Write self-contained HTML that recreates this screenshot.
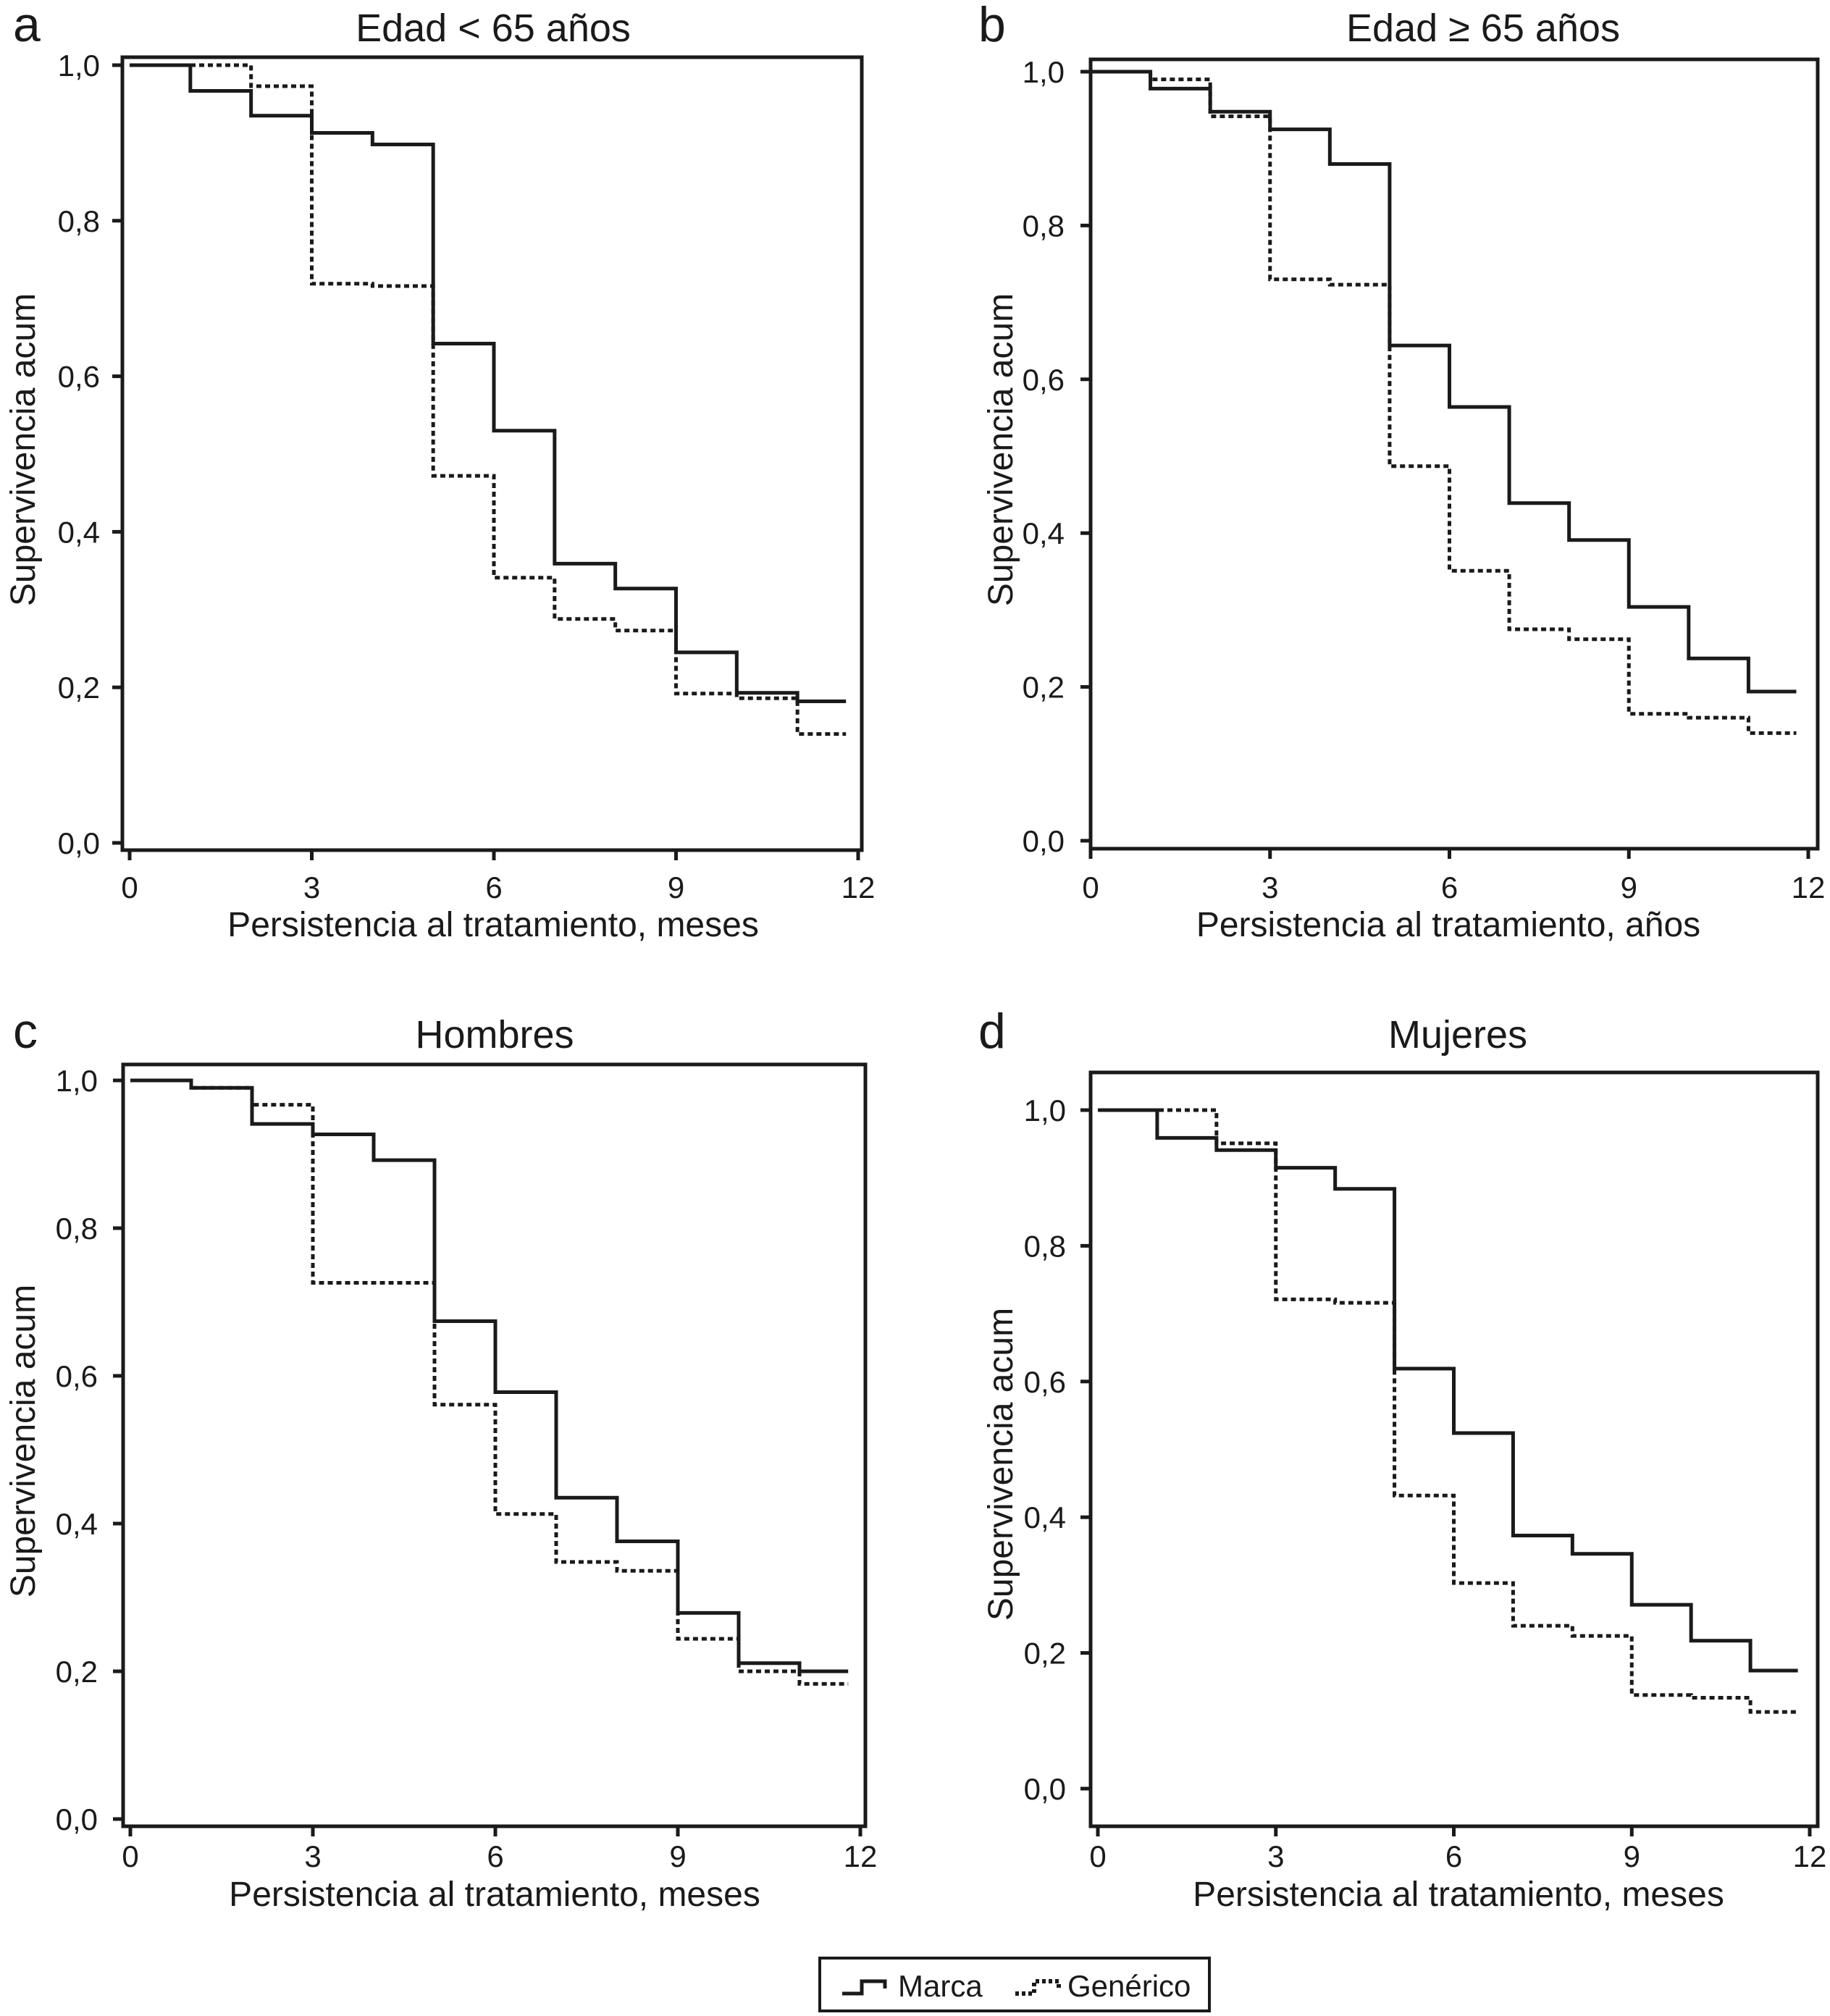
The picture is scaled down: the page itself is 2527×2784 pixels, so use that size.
<!DOCTYPE html>
<html><head><meta charset="utf-8">
<style>
html,body{margin:0;padding:0;background:#fff;}
svg{display:block;}
text{font-family:"Liberation Sans",Arial,sans-serif;fill:#1a1a1a;}
</style></head>
<body>
<svg id="chart" width="2527" height="2784" viewBox="0 0 2527 2784" xmlns="http://www.w3.org/2000/svg"></svg>
<script>
// ---- data ----
const xTicks = [0, 3, 6, 9, 12];
const yTicks = [0.0, 0.2, 0.4, 0.6, 0.8, 1.0];
const yTickLabels = ["0,0", "0,2", "0,4", "0,6", "0,8", "1,0"];
const stepTimes = [0, 1, 2, 3, 4, 5, 6, 7, 8, 9, 10, 11];
const endTime = 11.8;
const aMarca    = [1.0, 0.967, 0.935, 0.913, 0.898, 0.642, 0.530, 0.359, 0.327, 0.245, 0.193, 0.182];
const aGenerico = [1.0, 1.0, 0.973, 0.719, 0.716, 0.472, 0.341, 0.288, 0.273, 0.192, 0.186, 0.140];
const bMarca    = [1.0, 0.978, 0.948, 0.925, 0.880, 0.644, 0.564, 0.439, 0.391, 0.304, 0.237, 0.194];
const bGenerico = [1.0, 0.990, 0.942, 0.730, 0.723, 0.487, 0.351, 0.275, 0.262, 0.165, 0.160, 0.140];
const cMarca    = [1.0, 0.990, 0.941, 0.927, 0.892, 0.674, 0.578, 0.435, 0.376, 0.279, 0.211, 0.200];
const cGenerico = [1.0, 0.990, 0.967, 0.726, 0.726, 0.561, 0.413, 0.348, 0.336, 0.244, 0.200, 0.183];
const dMarca    = [1.0, 0.959, 0.941, 0.915, 0.884, 0.619, 0.524, 0.373, 0.346, 0.271, 0.218, 0.174];
const dGenerico = [1.0, 1.0, 0.951, 0.721, 0.716, 0.432, 0.303, 0.240, 0.225, 0.138, 0.134, 0.113];
const panelLetters = ["a", "b", "c", "d"];
const panelTitles = ["Edad < 65 años", "Edad \u2265 65 años", "Hombres", "Mujeres"];
const xTitles = ["Persistencia al tratamiento, meses", "Persistencia al tratamiento, años", "Persistencia al tratamiento, meses", "Persistencia al tratamiento, meses"];
const yTitle = "Supervivencia acum";

// ---- layout ----
const panels = [
  {L:169,R:1190,T:79,B:1174,x0:179,x12:1185,y0:1164,y1:90, marca:aMarca,gen:aGenerico, lx:18,ly:57, tx:681,ty:57, labR:138, ytx:48, yty:621, xtb:1240, xlb:1293, xlc:681},
  {L:1506,R:2510,T:82,B:1172,x0:1506,x12:2497,y0:1161,y1:99, marca:bMarca,gen:bGenerico, lx:1351,ly:57, tx:2048,ty:57, labR:1470, ytx:1398, yty:621, xtb:1240, xlb:1293, xlc:2000},
  {L:170,R:1195,T:1470,B:2522,x0:180,x12:1188,y0:2512,y1:1492, marca:cMarca,gen:cGenerico, lx:18,ly:1447, tx:683,ty:1447, labR:135, ytx:48, yty:1990, xtb:2578, xlb:2632, xlc:683},
  {L:1506,R:2510,T:1481,B:2522,x0:1516,x12:2499,y0:2470,y1:1533, marca:dMarca,gen:dGenerico, lx:1351,ly:1447, tx:2013,ty:1447, labR:1472, ytx:1398, yty:2022, xtb:2578, xlb:2632, xlc:2014}
];

const NS = "http://www.w3.org/2000/svg";
const svg = document.getElementById("chart");
function mk(tag, attrs, parent){
  const e = document.createElementNS(NS, tag);
  for (const k in attrs) e.setAttribute(k, attrs[k]);
  (parent||svg).appendChild(e);
  return e;
}
function stepPath(vals, xs, ys){
  let d = "M" + xs(stepTimes[0]) + "," + ys(vals[0]);
  for (let i = 1; i < vals.length; i++){
    d += " H" + xs(stepTimes[i]) + " V" + ys(vals[i]);
  }
  d += " H" + xs(endTime);
  return d;
}

panels.forEach((p, idx) => {
  const g = mk("g", {});
  
  
  const xs = v => p.x0 + (p.x12 - p.x0) * v / 12;
  const ys = v => p.y0 - (p.y0 - p.y1) * v;

  const frame = mk("rect", {x:p.L, y:p.T, width:p.R-p.L, height:p.B-p.T, fill:"none", stroke:"#1a1a1a", "stroke-width":5}, g);
  
  

  const letter = mk("text", {x:p.lx, y:p.ly, "font-size":68}, g);
  letter.textContent = panelLetters[idx];
  
  

  const title = mk("text", {x:p.tx, y:p.ty, "font-size":54, "text-anchor":"middle"}, g);
  title.textContent = panelTitles[idx];
  
  

  yTicks.forEach((t, i) => {
    const y = ys(t);
    const tk = mk("line", {x1:p.L-14, x2:p.L, y1:y, y2:y, stroke:"#1a1a1a", "stroke-width":5}, g);
    
    
    const lb = mk("text", {x:p.labR, y:y+15, "font-size":42, "text-anchor":"end"}, g);
    lb.textContent = yTickLabels[i];
    
    
  });
  xTicks.forEach(t => {
    const x = xs(t);
    const tk = mk("line", {x1:x, x2:x, y1:p.B, y2:p.B+14, stroke:"#1a1a1a", "stroke-width":5}, g);
    
    
    const lb = mk("text", {x:x, y:p.xtb, "font-size":42, "text-anchor":"middle"}, g);
    lb.textContent = String(t);
    
    
  });

  const xt = mk("text", {x:p.xlc, y:p.xlb, "font-size":48, "text-anchor":"middle"}, g);
  xt.textContent = xTitles[idx];
  
  

  const yt = mk("text", {x:0, y:0, "font-size":48, "text-anchor":"middle", transform:"translate(" + p.ytx + "," + p.yty + ") rotate(-90)"}, g);
  yt.textContent = yTitle;
  
  

  const gl = mk("path", {d:stepPath(p.gen, xs, ys), fill:"none", stroke:"#1a1a1a", "stroke-width":5, "stroke-dasharray":"7 5"}, g);
  
  
  const ml = mk("path", {d:stepPath(p.marca, xs, ys), fill:"none", stroke:"#1a1a1a", "stroke-width":5}, g);
  
  
});

// legend
const lg = mk("g", {});


const lbox = mk("rect", {x:1132, y:2704, width:538, height:73, fill:"#fff", stroke:"#1a1a1a", "stroke-width":4}, lg);


const li1 = mk("path", {d:"M1163,2753 H1190 V2736 H1222 V2746", fill:"none", stroke:"#1a1a1a", "stroke-width":5}, lg);


const lt1 = mk("text", {x:1240, y:2757, "font-size":42}, lg);
lt1.textContent = "Marca";


const li2 = mk("path", {d:"M1402,2753 H1428 V2736 H1462 V2746", fill:"none", stroke:"#1a1a1a", "stroke-width":6, "stroke-dasharray":"5 4"}, lg);


const lt2 = mk("text", {x:1474, y:2757, "font-size":42}, lg);
lt2.textContent = "Genérico";


</script>
</body></html>
